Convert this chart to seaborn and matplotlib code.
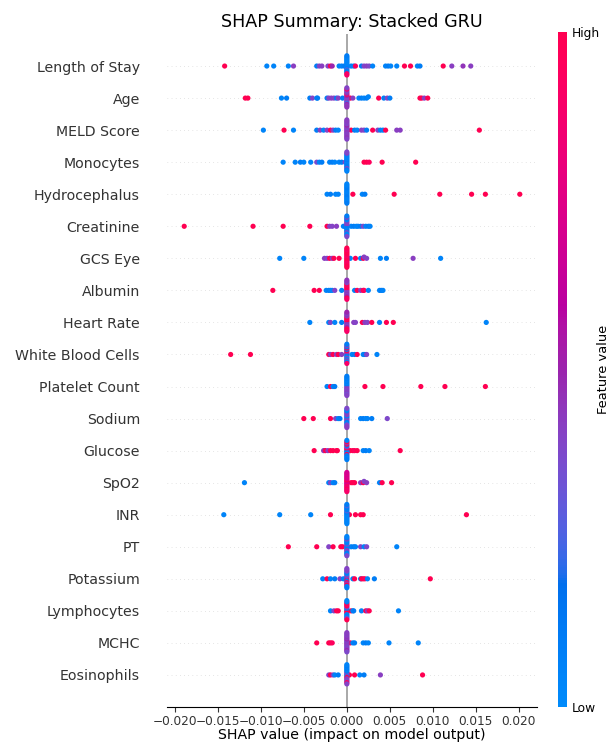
import numpy as np
import pandas as pd
import matplotlib
matplotlib.use("Agg")
import matplotlib.pyplot as plt
from matplotlib.colors import LinearSegmentedColormap, Normalize
from matplotlib.cm import ScalarMappable
from matplotlib.ticker import MultipleLocator
import seaborn as sns

FEATURES = [
    "Length of Stay", "Age", "MELD Score", "Monocytes", "Hydrocephalus",
    "Creatinine", "GCS Eye", "Albumin", "Heart Rate", "White Blood Cells",
    "Platelet Count", "Sodium", "Glucose", "SpO2", "INR", "PT",
    "Potassium", "Lymphocytes", "MCHC", "Eosinophils",
]

# (SHAP value, normalised feature value) for samples away from zero;
# *_ZERO holds the feature values of samples whose SHAP value is ~0.
LOS_POINTS = [(-0.0142, 1.0), (-0.0093, 0.05), (-0.0085, 0.05), (-0.0068, 0.05), (-0.0062, 0.42),
              (-0.0035, 0.1), (-0.0032, 0.4), (-0.0029, 0.42), (-0.0022, 0.4), (-0.0019, 1.0),
              (-0.0017, 0.5), (-0.0009, 0.05), (-0.0006, 0.05), (-0.0003, 0.1), (0.0005, 0.05),
              (0.0008, 0.05), (0.0010, 0.95), (0.0017, 0.1), (0.0020, 0.4), (0.0023, 0.42),
              (0.0026, 0.38), (0.0030, 0.05), (0.0045, 0.05), (0.0048, 0.1), (0.0051, 0.05),
              (0.0058, 0.05), (0.0067, 1.0), (0.0074, 1.0), (0.0082, 0.05), (0.0085, 0.1),
              (0.0112, 1.0), (0.0122, 0.42), (0.0135, 0.45), (0.0144, 0.42)]
LOS_ZERO = [0.05, 0.1, 0.05, 0.05, 0.1, 0.05, 0.25, 0.05, 0.1, 0.05, 0.1, 0.05, 0.95, 0.05, 0.9, 0.1]

AGE_POINTS = [(-0.0118, 1.0), (-0.0115, 1.0), (-0.0076, 0.05), (-0.0070, 0.1), (-0.0043, 0.1),
              (-0.0040, 0.4), (-0.0035, 0.05), (-0.0034, 0.1), (-0.0023, 0.1), (-0.0021, 0.4),
              (-0.0018, 0.42), (-0.0015, 0.4), (-0.0012, 0.1), (-0.0010, 0.42), (-0.0005, 0.1),
              (0.0004, 1.0), (0.0007, 0.42), (0.0014, 0.05), (0.0017, 0.1), (0.0020, 0.05),
              (0.0023, 0.1), (0.0025, 0.05), (0.0037, 1.0), (0.0043, 0.1), (0.0047, 0.4),
              (0.0050, 0.1), (0.0085, 1.0), (0.0087, 1.0), (0.0090, 0.42), (0.0094, 1.0)]
AGE_ZERO = [0.42, 0.45, 0.4, 0.5, 0.42, 0.9, 0.4, 0.45, 0.25, 0.42, 0.5, 0.4, 0.42, 0.9, 0.45, 0.4]

MELD_POINTS = [(-0.0097, 0.05), (-0.0073, 1.0), (-0.0062, 0.05), (-0.0035, 0.1), (-0.0031, 0.42),
               (-0.0027, 0.05), (-0.0023, 0.4), (-0.0019, 1.0), (-0.0016, 0.42), (-0.0013, 0.1),
               (-0.0010, 0.05), (0.0005, 1.0), (0.0009, 0.1), (0.0012, 0.05), (0.0017, 0.42),
               (0.0020, 0.4), (0.0023, 0.1), (0.0030, 1.0), (0.0036, 0.42), (0.0039, 0.1),
               (0.0042, 0.05), (0.0045, 1.0), (0.0058, 0.42), (0.0062, 0.42), (0.0154, 1.0)]
MELD_ZERO = [0.42, 0.4, 0.42, 0.38, 0.45, 0.42, 0.4, 0.5, 0.42, 0.38, 0.42, 0.4, 0.45, 0.42, 0.4, 0.42]

MONO_POINTS = [(-0.0074, 0.05), (-0.0060, 0.05), (-0.0054, 0.1), (-0.0050, 0.05), (-0.0042, 0.05),
               (-0.0035, 0.38), (-0.0032, 0.05), (-0.0029, 0.1), (-0.0020, 0.05), (-0.0017, 0.1),
               (-0.0014, 0.05), (-0.0009, 0.05), (-0.0006, 0.1), (-0.0002, 0.4), (0.0020, 1.0),
               (0.0023, 1.0), (0.0026, 0.95), (0.0041, 1.0), (0.0080, 1.0)]
MONO_ZERO = [0.05, 0.1, 0.05, 0.1, 0.05, 0.05, 0.1, 0.05, 0.1, 0.05, 0.4, 0.05, 0.1, 0.42, 0.05, 0.38]

HYDRO_POINTS = [(-0.0023, 0.05), (-0.0019, 0.1), (-0.0013, 0.05), (-0.0010, 0.05), (0.0007, 1.0),
                (0.0018, 0.05), (0.0021, 0.1), (0.0055, 1.0), (0.0108, 1.0), (0.0145, 1.0),
                (0.0161, 1.0), (0.0201, 1.0)]
HYDRO_ZERO = [0.05, 0.1, 0.05, 0.05, 0.1, 0.05, 0.1, 0.05, 0.05, 0.1, 0.05, 0.1, 0.05, 0.05, 0.1, 0.05]

CREAT_POINTS = [(-0.0189, 1.0), (-0.0109, 1.0), (-0.0074, 1.0), (-0.0043, 1.0), (-0.0023, 1.0),
                (-0.0020, 0.42), (-0.0017, 0.4), (-0.0012, 0.42), (-0.0004, 0.05), (-0.0002, 0.1),
                (0.0005, 0.05), (0.0008, 0.1), (0.0011, 0.05), (0.0013, 0.05), (0.0016, 0.1),
                (0.0019, 0.38), (0.0022, 0.05), (0.0025, 0.1), (0.0027, 0.05)]
CREAT_ZERO = [0.4, 0.05, 0.42, 0.1, 0.38, 0.05, 0.42, 0.1, 0.05, 0.4, 0.1, 0.05, 0.42, 0.05, 0.1, 0.38]

GCS_POINTS = [(-0.0078, 0.05), (-0.0050, 0.05), (-0.0026, 0.42), (-0.0023, 0.4), (-0.0020, 1.0),
              (-0.0017, 0.42), (-0.0015, 1.0), (-0.0009, 1.0), (0.0004, 0.05), (0.0010, 1.0),
              (0.0016, 0.05), (0.0019, 1.0), (0.0020, 0.42), (0.0023, 0.4), (0.0039, 0.05),
              (0.0046, 0.1), (0.0077, 0.42), (0.0109, 0.05)]
GCS_ZERO = [1.0, 0.95, 1.0, 0.9, 1.0, 0.95, 1.0, 1.0, 0.9, 1.0, 0.95, 1.0, 1.0, 0.9, 1.0, 1.0]

ALB_POINTS = [(-0.0086, 1.0), (-0.0038, 1.0), (-0.0032, 1.0), (-0.0024, 0.05), (-0.0021, 0.1),
              (-0.0019, 0.05), (-0.0017, 0.05), (-0.0014, 0.4), (-0.0006, 0.05), (0.0009, 0.05),
              (0.0012, 1.0), (0.0016, 0.42), (0.0019, 1.0), (0.0020, 0.95), (0.0025, 0.05),
              (0.0038, 0.05), (0.0040, 0.1), (0.0042, 0.05)]
ALB_ZERO = [0.5, 1.0, 0.42, 0.95, 0.4, 1.0, 0.45, 0.9, 0.42, 1.0, 0.5, 0.4, 1.0, 0.42, 0.9, 0.45]

HR_POINTS = [(-0.0043, 0.05), (-0.0021, 0.05), (-0.0019, 0.4), (-0.0014, 0.05), (-0.0006, 0.1),
             (0.0008, 0.42), (0.0010, 0.4), (0.0018, 1.0), (0.0021, 0.42), (0.0024, 0.4),
             (0.0029, 1.0), (0.0038, 0.05), (0.0046, 1.0), (0.0054, 1.0), (0.0162, 0.05)]
HR_ZERO = [0.5, 0.95, 0.42, 1.0, 0.45, 0.9, 0.4, 1.0, 0.5, 0.42, 0.95, 0.45, 1.0, 0.4, 0.9, 0.5]

WBC_POINTS = [(-0.0135, 1.0), (-0.0112, 1.0), (-0.0021, 1.0), (-0.0019, 0.42), (-0.0016, 1.0),
              (-0.0012, 0.4), (-0.0010, 1.0), (-0.0006, 0.42), (0.0006, 0.05), (0.0009, 0.1),
              (0.0012, 1.0), (0.0019, 0.05), (0.0021, 0.1), (0.0023, 0.4), (0.0035, 0.05)]
WBC_ZERO = [0.05, 0.9, 0.1, 0.42, 0.05, 1.0, 0.4, 0.1, 0.05, 0.95, 0.42, 0.1, 0.05, 0.42, 0.9, 0.1]

PLT_POINTS = [(-0.0023, 0.05), (-0.0019, 1.0), (-0.0016, 0.05), (-0.0014, 0.1), (0.0021, 1.0),
              (0.0042, 1.0), (0.0086, 1.0), (0.0114, 1.0), (0.0161, 1.0)]
PLT_ZERO = [0.38, 0.05, 0.4, 0.1, 0.42, 0.05, 0.38, 0.1, 0.4, 0.05, 0.42, 0.1, 0.35, 0.05, 0.4, 0.1]

NA_POINTS = [(-0.0050, 1.0), (-0.0039, 1.0), (-0.0019, 1.0), (-0.0013, 0.4), (-0.0010, 0.05),
             (-0.0008, 0.1), (0.0016, 0.05), (0.0019, 0.1), (0.0022, 0.05), (0.0024, 0.05),
             (0.0029, 0.1), (0.0047, 0.38)]
NA_ZERO = [0.4, 0.1, 0.42, 0.05, 0.38, 0.42, 0.1, 0.4, 0.05, 0.42, 0.38, 0.1, 0.4, 0.05, 0.42, 0.38]

GLU_POINTS = [(-0.0038, 1.0), (-0.0027, 0.42), (-0.0025, 1.0), (-0.0022, 0.42), (-0.0019, 1.0),
              (-0.0016, 1.0), (-0.0012, 1.0), (-0.0011, 1.0), (0.0004, 1.0), (0.0007, 1.0),
              (0.0009, 0.95), (0.0012, 1.0), (0.0019, 0.05), (0.0022, 0.1), (0.0026, 0.05),
              (0.0062, 1.0)]
GLU_ZERO = [0.05, 1.0, 0.1, 0.95, 0.05, 0.4, 1.0, 0.1, 0.05, 1.0, 0.1, 0.42, 0.05, 1.0, 0.1, 0.05]

SPO2_POINTS = [(-0.0119, 0.05), (-0.0021, 0.05), (-0.0019, 0.4), (-0.0016, 0.05), (-0.0014, 0.1),
               (0.0005, 1.0), (0.0007, 1.0), (0.0009, 1.0), (0.0016, 0.42), (0.0019, 1.0),
               (0.0020, 0.4), (0.0023, 0.42), (0.0038, 0.05), (0.0041, 1.0), (0.0052, 1.0)]
SPO2_ZERO = [0.75, 0.85, 0.7, 1.0, 0.75, 0.8, 0.95, 0.7, 0.8, 0.75, 1.0, 0.7, 0.85, 0.75, 0.9, 0.7]

INR_POINTS = [(-0.0143, 0.05), (-0.0078, 0.05), (-0.0042, 0.05), (-0.0019, 1.0), (0.0003, 1.0),
              (0.0010, 1.0), (0.0016, 1.0), (0.0019, 1.0), (0.0139, 1.0)]
INR_ZERO = [0.05, 0.1, 0.05, 0.1, 0.05, 0.25, 0.05, 0.1, 0.05, 0.1, 0.05, 0.1, 0.05, 0.25, 0.05, 0.1]

PT_POINTS = [(-0.0068, 1.0), (-0.0035, 1.0), (-0.0021, 0.4), (-0.0016, 1.0), (-0.0007, 1.0),
             (-0.0005, 1.0), (0.0005, 0.05), (0.0008, 0.1), (0.0010, 0.05), (0.0016, 0.4),
             (0.0020, 0.05), (0.0023, 0.38), (0.0058, 0.05)]
PT_ZERO = [0.1, 0.4, 0.05, 0.38, 0.1, 0.05, 0.42, 0.1, 0.38, 0.05, 0.1, 0.4, 0.05, 0.1, 0.38, 0.05]

K_POINTS = [(-0.0028, 0.05), (-0.0023, 1.0), (-0.0019, 0.05), (-0.0014, 0.1), (-0.0008, 0.4),
            (-0.0004, 0.05), (0.0007, 0.05), (0.0009, 1.0), (0.0016, 0.1), (0.0017, 1.0),
            (0.0019, 1.0), (0.0021, 0.95), (0.0024, 0.05), (0.0032, 0.1), (0.0097, 1.0)]
K_ZERO = [0.4, 0.05, 1.0, 0.42, 0.1, 0.4, 0.95, 0.05, 0.42, 0.1, 1.0, 0.38, 0.05, 0.42, 0.1, 0.4]

LYMPH_POINTS = [(-0.0019, 0.05), (-0.0015, 0.4), (-0.0012, 1.0), (-0.0010, 1.0), (0.0005, 1.0),
                (0.0007, 0.05), (0.0008, 0.1), (0.0017, 0.05), (0.0022, 1.0), (0.0024, 0.42),
                (0.0026, 1.0), (0.0060, 0.05)]
LYMPH_ZERO = [1.0, 0.05, 0.95, 0.1, 1.0, 0.42, 0.05, 1.0, 0.1, 0.9, 0.05, 1.0, 0.4, 0.1, 1.0, 0.05]

MCHC_POINTS = [(-0.0035, 1.0), (-0.0021, 1.0), (-0.0019, 1.0), (-0.0017, 0.95), (0.0004, 1.0),
               (0.0007, 0.05), (0.0009, 0.1), (0.0019, 0.05), (0.0022, 0.1), (0.0025, 0.05),
               (0.0049, 0.05), (0.0083, 0.05)]
MCHC_ZERO = [0.42, 0.4, 0.45, 0.38, 0.42, 0.5, 0.4, 0.42, 0.38, 0.45, 0.42, 0.4, 0.5, 0.42, 0.38, 0.42]

EOS_POINTS = [(-0.0021, 0.4), (-0.0019, 1.0), (-0.0016, 0.42), (-0.0014, 0.05), (-0.0010, 0.1),
              (0.0003, 1.0), (0.0009, 1.0), (0.0015, 0.05), (0.0020, 0.1), (0.0039, 0.42),
              (0.0088, 1.0)]
EOS_ZERO = [0.1, 0.4, 0.05, 0.38, 1.0, 0.1, 0.42, 0.05, 0.4, 0.1, 0.38, 0.05, 0.95, 0.1, 0.4, 0.05]

POINTS = [LOS_POINTS, AGE_POINTS, MELD_POINTS, MONO_POINTS, HYDRO_POINTS, CREAT_POINTS,
          GCS_POINTS, ALB_POINTS, HR_POINTS, WBC_POINTS, PLT_POINTS, NA_POINTS, GLU_POINTS,
          SPO2_POINTS, INR_POINTS, PT_POINTS, K_POINTS, LYMPH_POINTS, MCHC_POINTS, EOS_POINTS]
ZEROS = [LOS_ZERO, AGE_ZERO, MELD_ZERO, MONO_ZERO, HYDRO_ZERO, CREAT_ZERO, GCS_ZERO, ALB_ZERO,
         HR_ZERO, WBC_ZERO, PLT_ZERO, NA_ZERO, GLU_ZERO, SPO2_ZERO, INR_ZERO, PT_ZERO, K_ZERO,
         LYMPH_ZERO, MCHC_ZERO, EOS_ZERO]


def red_blue_cmap(nsteps=100):
    """Blue -> purple -> red colormap interpolated in CIE LCh space."""
    blue_lch = (54.0, 70.0, 4.6588)
    red_lch = (54.0, 90.0, 0.35470565 + 2 * np.pi)
    l_mid = 40.0
    L = np.concatenate([np.linspace(blue_lch[0], l_mid, nsteps // 2),
                        np.linspace(l_mid, red_lch[0], nsteps // 2)])
    C = np.linspace(blue_lch[1], red_lch[1], nsteps)
    H = np.linspace(blue_lch[2], red_lch[2], nsteps)
    a, b = C * np.cos(H), C * np.sin(H)
    fy = (L + 16) / 116
    fx, fz = fy + a / 500, fy - b / 200

    def finv(t):
        return np.where(t > 6 / 29, t ** 3, 3 * (6 / 29) ** 2 * (t - 4 / 29))

    xyz = np.vstack([0.95047 * finv(fx), finv(fy), 1.08883 * finv(fz)])
    m = np.array([[3.2406, -1.5372, -0.4986],
                  [-0.9689, 1.8758, 0.0415],
                  [0.0557, -0.2040, 1.0570]])
    lin = m @ xyz
    rgb = np.where(lin > 0.0031308,
                   1.055 * np.clip(lin, 0, None) ** (1 / 2.4) - 0.055,
                   12.92 * lin)
    return LinearSegmentedColormap.from_list("red_blue", np.clip(rgb, 0, 1).T)


def swarm_offsets(shaps, row_height=0.4, nbins=100):
    """Stack samples falling in the same value bin alternately above/below the row."""
    shaps = np.asarray(shaps, dtype=float)
    quant = np.round(nbins * (shaps - shaps.min()) / (shaps.max() - shaps.min() + 1e-8))
    order = np.argsort(quant, kind="stable")
    ys = np.zeros(len(shaps))
    layer, last_bin = 0, -1
    for ind in order:
        if quant[ind] != last_bin:
            layer = 0
        ys[ind] = np.ceil(layer / 2) * ((layer % 2) * 2 - 1)
        layer += 1
        last_bin = quant[ind]
    ys *= 0.9 * (row_height / np.max(ys + 1))
    return ys


n = len(FEATURES)
frames = []
for i, (feat, pts, zero) in enumerate(zip(FEATURES, POINTS, ZEROS)):
    shaps = [p[0] for p in pts] + [0.0] * len(zero)
    vals = [p[1] for p in pts] + list(zero)
    pos = n - 1 - i
    frames.append(pd.DataFrame({
        "feature": feat,
        "shap": shaps,
        "value": vals,
        "y": pos + swarm_offsets(shaps),
    }))
df = pd.concat(frames, ignore_index=True)

cmap = red_blue_cmap()
axis_color = "#333333"

fig = plt.figure(figsize=(6.09, 7.44), dpi=100)
ax = fig.add_axes([167 / 609, 37 / 744, 370 / 609, 673 / 744])

for pos in range(n):
    ax.axhline(pos, color="#cccccc", lw=0.5, dashes=(1, 5), zorder=-1)
ax.axvline(0, color="#999999", lw=1.2, zorder=-1)

sns.scatterplot(data=df, x="shap", y="y", hue="value", palette=cmap, hue_norm=(0, 1),
                s=14, linewidth=0, alpha=1, legend=False, ax=ax, zorder=3)

ax.set_xlim(-0.0209, 0.0221)
ax.set_ylim(-1, n)
ax.set_yticks(range(n))
ax.set_yticklabels(FEATURES[::-1], fontsize=10.2)
ax.xaxis.set_major_locator(MultipleLocator(0.005))
ax.tick_params(color=axis_color, labelcolor=axis_color)
ax.tick_params("y", length=0, pad=19.5)
ax.tick_params("x", labelsize=8.7, length=3.5, width=0.8, pad=2.5)
for side in ("top", "right", "left"):
    ax.spines[side].set_visible(False)
ax.set_ylabel("")
ax.set_xlabel("SHAP value (impact on model output)", fontsize=10.2, labelpad=0)
ax.set_title("SHAP Summary: Stacked GRU", fontsize=12.6, pad=5)

cax = fig.add_axes([558 / 609, 37 / 744, 9 / 609, 675 / 744])
cb = fig.colorbar(ScalarMappable(norm=Normalize(0, 1), cmap=cmap), cax=cax, ticks=[0, 1])
cb.set_ticklabels(["Low", "High"])
cb.ax.tick_params(labelsize=8.8, length=0)
cb.outline.set_visible(False)
cb.set_label("Feature value", size=9.4, labelpad=-2)

fig.savefig("out.png", dpi=100)
